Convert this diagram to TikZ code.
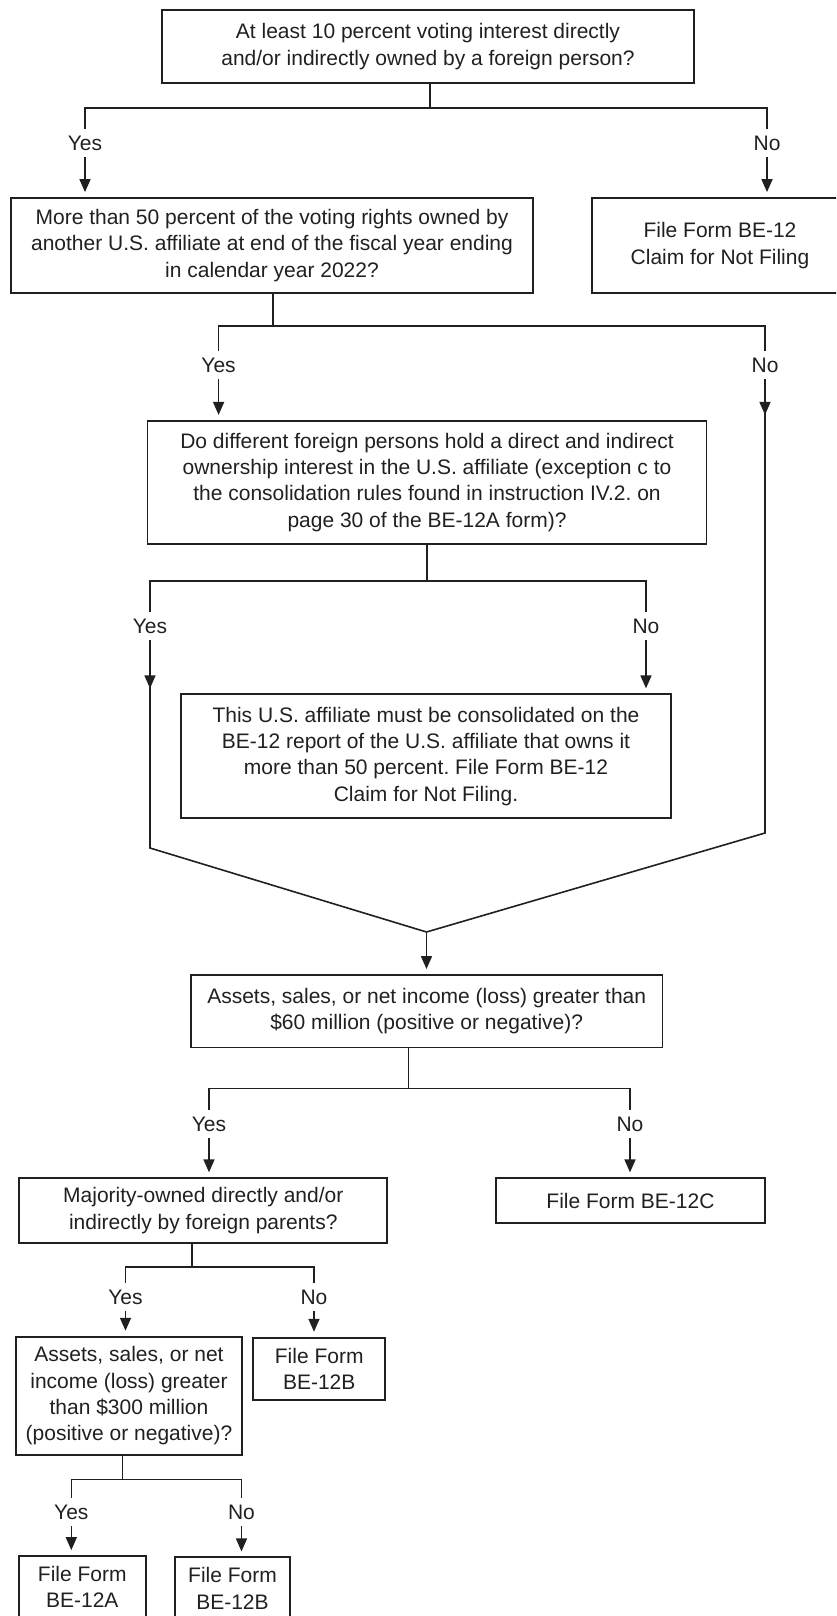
\documentclass[tikz,border=0pt]{standalone}
\usepackage{fontspec}
\setmainfont{Liberation Sans}
\usepackage{tikz}
\usetikzlibrary{arrows.meta}
\definecolor{ink}{HTML}{231F20}

\begin{document}
\begin{tikzpicture}[x=1pt, y=-1pt,
box/.style={draw=ink, line width=1.8pt, text=ink, align=center, inner sep=0pt, font=\fontsize{21}{26.3}\selectfont\frenchspacing},
answer/.style={text=ink, inner sep=0pt, minimum height=28pt, font=\fontsize{21}{26.3}\selectfont},
wire/.style={draw=ink, line width=1.6pt},
arrow/.style={wire, -{Triangle[length=13pt, width=11pt]}, shorten >=5pt},
]
\useasboundingbox (0,0) rectangle (836,1616);
\clip (0,0) rectangle (836,1616);

%Question boxes
\node[box, minimum width=532pt, minimum height=73pt] (q1) at (428,46.5) {At least 10 percent voting interest directly\\and/or indirectly owned by a foreign person?};
\node[box, minimum width=522pt, minimum height=95pt] (q2) at (272,245.5) {More than 50 percent of the voting rights owned by\\another U.S. affiliate at end of the fiscal year ending\\in calendar year 2022?};
\node[box, minimum width=559pt, minimum height=123pt] (q3) at (427,482.3) {Do different foreign persons hold a direct and indirect\\ownership interest in the U.S. affiliate (exception c to\\the consolidation rules found in instruction IV.2. on\\page 30 of the BE-12A form)?};
\node[box, minimum width=471.5pt, minimum height=72.5pt] (q4) at (426.7,1011.2) {Assets, sales, or net income (loss) greater than\\\$60 million (positive or negative)?};
\node[box, minimum width=368pt, minimum height=65pt] (q5) at (203.3,1210.7) {Majority-owned directly and/or\\indirectly by foreign parents?};
\node[box, minimum width=226.6pt, minimum height=118.3pt] (q6) at (129,1395.8) {Assets, sales, or net\\income (loss) greater\\than \$300 million\\(positive or negative)?};

%Result boxes
\node[box, minimum width=256pt, minimum height=95pt] (r1) at (720,245.5) {File Form BE-12\\Claim for Not Filing};
\node[box, minimum width=489.4pt, minimum height=124pt] (r2) at (426,756.3) {This U.S. affiliate must be consolidated on the\\BE-12 report of the U.S. affiliate that owns it\\more than 50 percent. File Form BE-12\\Claim for Not Filing.};
\node[box, minimum width=269.3pt, minimum height=45pt] (r3) at (630.5,1200.8) {File Form BE-12C};
\node[box, minimum width=131.7pt, minimum height=62.3pt] (r4) at (319.2,1368.8) {File Form\\BE-12B};
\node[box, minimum width=126.7pt, minimum height=62pt] (r5) at (82.3,1587) {File Form\\BE-12A};
\node[box, minimum width=115pt, minimum height=62pt] (r6) at (232.5,1588.3) {File Form\\BE-12B};

%Fork 1
\coordinate (f1) at (430,108);
\node[answer] (y1) at (85,143) {Yes};
\node[answer] (n1) at (767,143) {No};
\draw[wire] (q1.south -| f1) -- (f1);
\draw[wire] (y1.north) |- (f1) -| (n1.north);
\draw[arrow] (y1.south) -- (y1.south |- q2.north);
\draw[arrow] (n1.south) -- (n1.south |- r1.north);

%Fork 2
\coordinate (f2) at (273,325.7);
\node[answer] (y2) at (218.6,365) {Yes};
\node[answer] (n2) at (765,365) {No};
\draw[wire] (q2.south -| f2) -- (f2);
\draw[wire] (y2.north) |- (f2) -| (n2.north);
\draw[arrow] (y2.south) -- (y2.south |- q3.north);

%Fork 3
\coordinate (f3) at (427,580.7);
\node[answer] (y3) at (150,626) {Yes};
\node[answer] (n3) at (646,626) {No};
\draw[wire] (q3.south -| f3) -- (f3);
\draw[wire] (y3.north) |- (f3) -| (n3.north);
\draw[arrow] (n3.south) -- (n3.south |- r2.north);

%Merge
\coordinate (m) at (426.5,932);
\coordinate (c1) at (150,848);
\coordinate (c2) at (765,833);
\draw[wire] (y3.south) -- (c1) -- (m);
\draw[wire] (n2.south) -- (c2) -- (m);
\draw[arrow] (y3.south) -- (y3.south |- r2.north);
\draw[arrow] (n2.south) -- (n2.south |- q3.north);
\draw[arrow] (m) -- (m |- q4.north);

%Fork 4
\coordinate (f4) at (408.3,1088.3);
\node[answer] (y4) at (209,1124) {Yes};
\node[answer] (n4) at (630,1124) {No};
\draw[wire] (q4.south -| f4) -- (f4);
\draw[wire] (y4.north) |- (f4) -| (n4.north);
\draw[arrow] (y4.south) -- (y4.south |- q5.north);
\draw[arrow] (n4.south) -- (n4.south |- r3.north);

%Fork 5
\coordinate (f5) at (191.7,1266.7);
\node[answer] (y5) at (125.5,1297) {Yes};
\node[answer] (n5) at (314,1297) {No};
\draw[wire] (q5.south -| f5) -- (f5);
\draw[wire] (y5.north) |- (f5) -| (n5.north);
\draw[arrow] (y5.south) -- (y5.south |- q6.north);
\draw[arrow] (n5.south) -- (n5.south |- r4.north);

%Fork 6
\coordinate (f6) at (122.3,1479.3);
\node[answer] (y6) at (71.3,1512) {Yes};
\node[answer] (n6) at (241.5,1512) {No};
\draw[wire] (q6.south -| f6) -- (f6);
\draw[wire] (y6.north) |- (f6) -| (n6.north);
\draw[arrow] (y6.south) -- (y6.south |- r5.north);
\draw[arrow] (n6.south) -- (n6.south |- r6.north);
\end{tikzpicture}
\end{document}
